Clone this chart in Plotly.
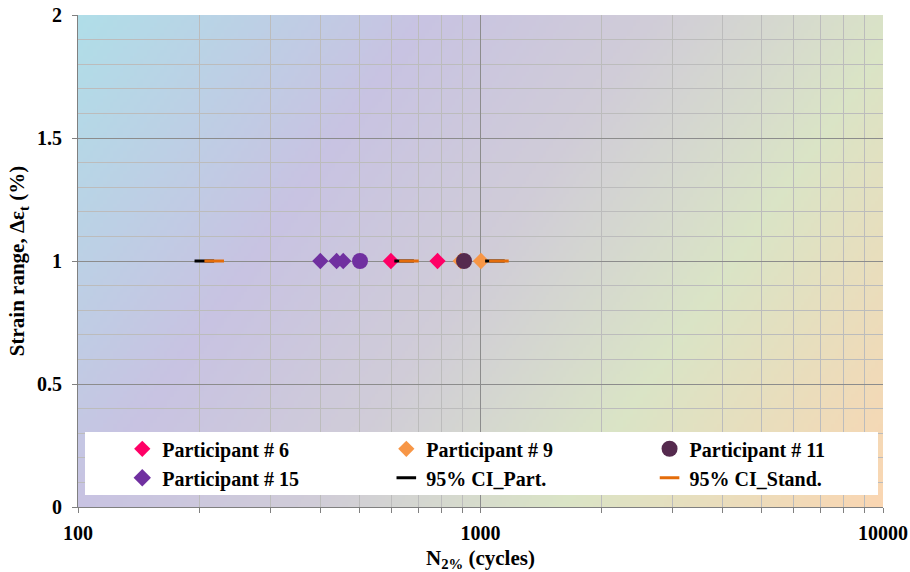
import base64
import struct
import zlib

import plotly.graph_objects as go

# ---- data: cycles to 2% drop (N) at a strain range of 1 % ----
strain = 1.0
p6_cycles = [599, 782]
p9_cycles = [893, 1003]
p11_cycles = [910]
p15_cycles = [400, 439, 456, 502]
p15_symbols = ["diamond", "diamond", "diamond", "circle"]
ci_part_cycles = [206, 646, 1086]
ci_stand_cycles = [218, 664, 1111]

x_ticks = [100, 1000, 10000]
x_minor = [v * d for d in (100, 1000) for v in range(2, 10)]
y_ticks = [0, 0.5, 1, 1.5, 2]
y_tick_text = ["0", "0.5", "1", "1.5", "2"]

FONT = "Liberation Serif, Times New Roman, serif"


def gradient_png(w, h):
    """Diagonal pastel wash used as the plot-area background."""
    stops = [
        (0.00, (176, 222, 232)),
        (0.30, (200, 195, 226)),
        (0.50, (208, 204, 216)),
        (0.72, (218, 228, 198)),
        (1.00, (250, 214, 178)),
    ]

    def colour(t):
        for (t0, c0), (t1, c1) in zip(stops, stops[1:]):
            if t <= t1:
                f = (t - t0) / (t1 - t0)
                return bytes(round(a + (b - a) * f) for a, b in zip(c0, c1))
        return bytes(stops[-1][1])

    raw = bytearray()
    for j in range(h):
        raw.append(0)
        v = j / (h - 1)
        for i in range(w):
            u = i / (w - 1)
            raw += colour(0.7 * u + 0.3 * v)

    def chunk(tag, data):
        c = struct.pack(">I", len(data)) + tag + data
        return c + struct.pack(">I", zlib.crc32(tag + data) & 0xFFFFFFFF)

    png = b"\x89PNG\r\n\x1a\n"
    png += chunk(b"IHDR", struct.pack(">IIBBBBB", w, h, 8, 2, 0, 0, 0))
    png += chunk(b"IDAT", zlib.compress(bytes(raw), 9))
    png += chunk(b"IEND", b"")
    return "data:image/png;base64," + base64.b64encode(png).decode()


fig = go.Figure()


def add_points(name, xs, color, symbol, size, legend):
    fig.add_trace(go.Scatter(
        x=xs, y=[strain] * len(xs), mode="markers", name=name,
        legend=legend, legendgroup=name,
        marker=dict(color=color, symbol=symbol, size=size, opacity=1,
                    line=dict(width=0, color=color)),
    ))


def add_ci(name, xs, color, legend):
    fig.add_trace(go.Scatter(
        x=xs, y=[strain] * len(xs), mode="markers", name=name,
        legend=legend, legendgroup=name,
        marker=dict(symbol="line-ew", size=14, opacity=1,
                    line=dict(width=3, color=color)),
    ))


add_points("Participant # 6", p6_cycles, "#FF0066", "diamond", 12.5, "legend")
add_points("Participant # 9", p9_cycles, "#F79646", "diamond", 12.5, "legend2")
add_points("Participant # 11", p11_cycles, "#552A4E", "circle", 16, "legend3")
add_points("Participant # 15", p15_cycles, "#7030A0", p15_symbols,
           [12.5, 12.5, 12.5, 16], "legend")
add_ci("95% CI_Part.", ci_part_cycles, "black", "legend2")
add_ci("95% CI_Stand.", ci_stand_cycles, "#E46C0A", "legend3")

major_grid = "rgb(140,140,140)"
minor_grid = "rgb(188,188,188)"
axis_grey = "rgb(128,128,128)"


def legend_column(x):
    return dict(
        orientation="v", x=x, y=0.158, xanchor="left", yanchor="top",
        bgcolor="rgba(0,0,0,0)", tracegroupgap=0, itemclick=False,
        font=dict(family=FONT, size=20, color="black", weight="bold"),
    )


fig.update_layout(
    width=910, height=572,
    margin=dict(l=78, r=27, t=15, b=65),
    paper_bgcolor="white",
    plot_bgcolor="rgba(0,0,0,0)",
    font=dict(family=FONT, size=19, color="black"),
    images=[dict(source=gradient_png(240, 150), xref="paper", yref="paper",
                 x=0, y=1, sizex=1, sizey=1, sizing="stretch",
                 xanchor="left", yanchor="top", layer="below")],
    shapes=[dict(type="rect", xref="paper", yref="paper",
                 x0=0.0087, x1=0.9938, y0=0.0244, y1=0.1524,
                 fillcolor="white", line=dict(width=0), layer="above")],
    showlegend=True,
    legend=legend_column(0.055),
    legend2=legend_column(0.383),
    legend3=legend_column(0.710),
    xaxis=dict(
        type="log", range=[2, 4], automargin=False,
        tickvals=x_ticks, ticktext=[str(v) for v in x_ticks],
        tickfont=dict(family=FONT, size=20, weight="bold"),
        ticklabelstandoff=3,
        showgrid=True, gridcolor=major_grid, gridwidth=1,
        ticks="outside", ticklen=5, tickcolor=axis_grey,
        showline=True, linecolor=axis_grey, zeroline=False,
        minor=dict(tickvals=x_minor, showgrid=True, gridcolor=minor_grid,
                   ticks="outside", ticklen=5, tickcolor=axis_grey),
        title=dict(text="N<sub>2%</sub> (cycles)", standoff=8,
                   font=dict(family=FONT, size=21, weight="bold")),
    ),
    yaxis=dict(
        range=[0, 2], automargin=False,
        tickvals=y_ticks, ticktext=y_tick_text,
        tickfont=dict(family=FONT, size=20, weight="bold"),
        ticklabelstandoff=6,
        showgrid=True, gridcolor=major_grid, gridwidth=1,
        ticks="outside", ticklen=5, tickcolor=axis_grey,
        showline=True, linecolor=axis_grey, zeroline=False,
        minor=dict(dtick=0.1, showgrid=True, gridcolor=minor_grid, ticks=""),
        title=dict(text="Strain range, Δε<sub>t</sub> (%)", standoff=6,
                   font=dict(family=FONT, size=21, weight="bold")),
    ),
)

fig.write_html("out.html")
